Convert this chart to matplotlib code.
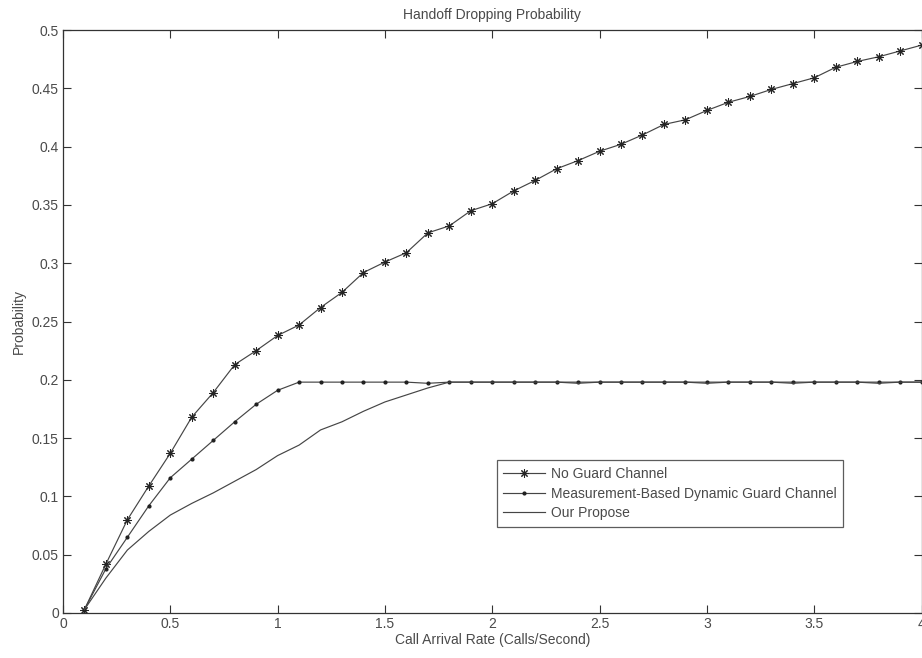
import numpy as np
import matplotlib
matplotlib.use("Agg")
import matplotlib.pyplot as plt

plt.rcParams['font.family'] = ['Liberation Sans', 'DejaVu Sans']

# Call arrival rate (Calls/Second)
arrival_rate = [0.1, 0.2, 0.3, 0.4, 0.5, 0.6, 0.7, 0.8, 0.9, 1.0,
                1.1, 1.2, 1.3, 1.4, 1.5, 1.6, 1.7, 1.8, 1.9, 2.0,
                2.1, 2.2, 2.3, 2.4, 2.5, 2.6, 2.7, 2.8, 2.9, 3.0,
                3.1, 3.2, 3.3, 3.4, 3.5, 3.6, 3.7, 3.8, 3.9, 4.0]

no_guard = [0.003, 0.042, 0.080, 0.109, 0.137, 0.168, 0.189, 0.213, 0.225, 0.238,
            0.247, 0.262, 0.275, 0.292, 0.301, 0.309, 0.326, 0.332, 0.345, 0.351,
            0.362, 0.371, 0.381, 0.388, 0.396, 0.402, 0.410, 0.419, 0.423, 0.431,
            0.438, 0.443, 0.449, 0.454, 0.459, 0.468, 0.473, 0.477, 0.482, 0.487]

measurement_based = [0.003, 0.038, 0.065, 0.092, 0.116, 0.132, 0.148, 0.164, 0.179, 0.191,
                     0.198, 0.198, 0.198, 0.198, 0.198, 0.198, 0.197, 0.198, 0.198, 0.198,
                     0.198, 0.198, 0.198, 0.198, 0.198, 0.198, 0.198, 0.198, 0.198, 0.198,
                     0.198, 0.198, 0.198, 0.198, 0.198, 0.198, 0.198, 0.198, 0.198, 0.198]

our_propose = [0.003, 0.030, 0.054, 0.070, 0.084, 0.094, 0.103, 0.113, 0.123, 0.135,
               0.144, 0.157, 0.164, 0.173, 0.181, 0.187, 0.193, 0.198, 0.198, 0.198,
               0.198, 0.198, 0.198, 0.197, 0.198, 0.198, 0.198, 0.198, 0.198, 0.197,
               0.198, 0.198, 0.198, 0.197, 0.198, 0.198, 0.198, 0.197, 0.198, 0.198]

series_labels = ["No Guard Channel",
                 "Measurement-Based Dynamic Guard Channel",
                 "Our Propose"]

x_ticks = [0, 0.5, 1, 1.5, 2, 2.5, 3, 3.5, 4]
x_tick_labels = ["0", "0.5", "1", "1.5", "2", "2.5", "3", "3.5", "4"]
y_ticks = [0, 0.05, 0.1, 0.15, 0.2, 0.25, 0.3, 0.35, 0.4, 0.45, 0.5]
y_tick_labels = ["0", "0.05", "0.1", "0.15", "0.2", "0.25", "0.3", "0.35", "0.4", "0.45", "0.5"]

line_col = '#454545'
text_col = '#4a4a4a'

fig = plt.figure(figsize=(9.22, 6.58), dpi=100)
ax = fig.add_axes([63/922, 1 - 613/658, (921.5 - 63)/922, (613 - 30)/658])

ax.plot(arrival_rate, no_guard, color=line_col, lw=0.85, marker=(8, 2, 0),
        markersize=6, markeredgewidth=0.75, markeredgecolor='#252525',
        label=series_labels[0])
ax.plot(arrival_rate, measurement_based, color=line_col, lw=0.85, marker='.',
        markersize=4, markeredgecolor='#202020', markerfacecolor='#202020',
        label=series_labels[1])
ax.plot(arrival_rate, our_propose, color=line_col, lw=0.85, label=series_labels[2])

ax.set_xlim(0, 4)
ax.set_ylim(0, 0.5)
ax.set_xticks(x_ticks)
ax.set_xticklabels(x_tick_labels)
ax.set_yticks(y_ticks)
ax.set_yticklabels(y_tick_labels)

ax.tick_params(direction='in', top=True, right=True, length=6, width=0.8,
               colors='#333333', labelcolor=text_col, labelsize=10, pad=3)
for sp in ax.spines.values():
    sp.set_color('#333333')
    sp.set_linewidth(0.9)

ax.set_title("Handoff Dropping Probability", fontsize=10, color=text_col, pad=8)
ax.set_xlabel("Call Arrival Rate (Calls/Second)", fontsize=10, color=text_col, labelpad=1)
ax.set_ylabel("Probability", fontsize=10, color=text_col, labelpad=4)

leg = ax.legend(loc='upper left', bbox_to_anchor=(0.505, 0.262), fontsize=10,
                frameon=True, fancybox=False, shadow=False, handlelength=3.0,
                handletextpad=0.4, borderpad=0.5, labelspacing=0.4,
                borderaxespad=0)
leg.get_frame().set_edgecolor('#333333')
leg.get_frame().set_linewidth(0.9)
for t in leg.get_texts():
    t.set_color(text_col)

fig.savefig("out.png", dpi=100)
